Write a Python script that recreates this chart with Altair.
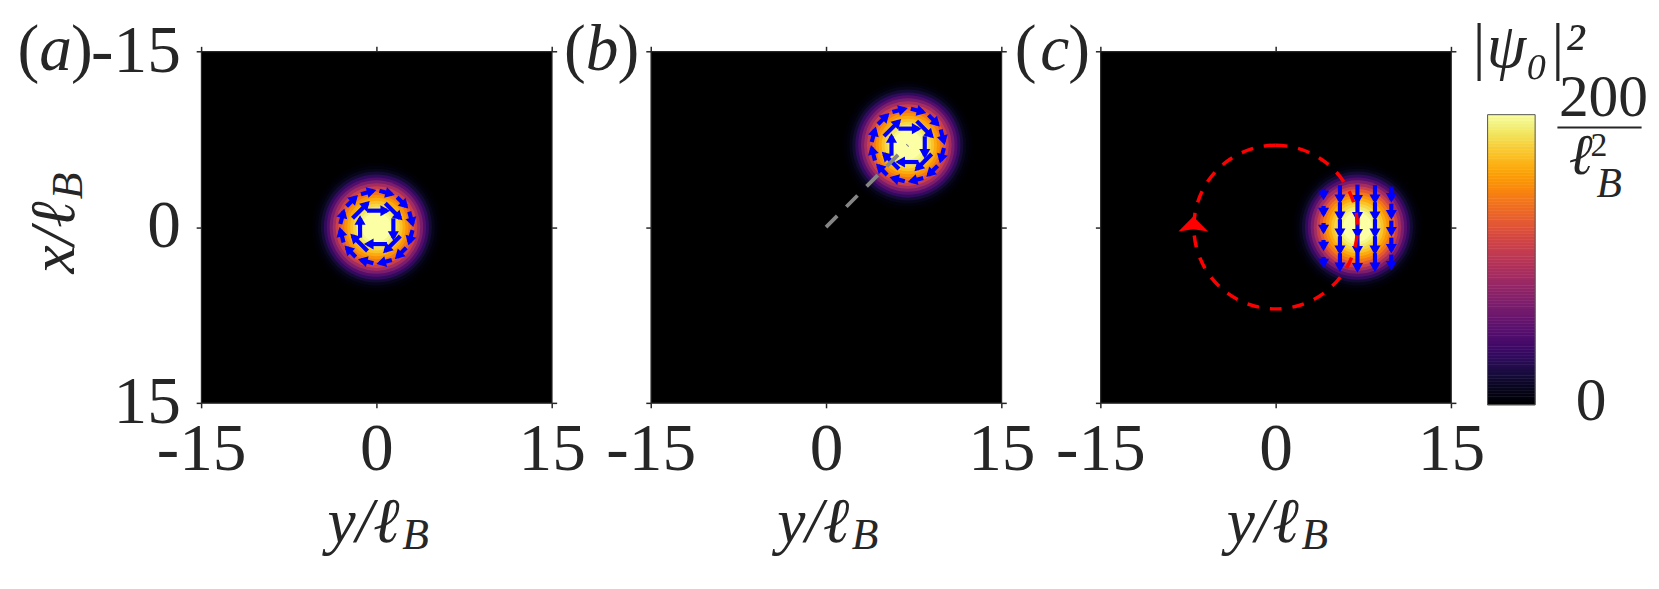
import math
import altair as alt
import pandas as pd

FONT = "Liberation Serif"
INK = "#262626"
W, H = 354, 355
TICK_FS = 68
TITLE_FS = 64
SUB_FS = 44
LBL_FS = 66

# ---------------- data ----------------
PANEL_LETTERS = ["a", "b", "c"]
# blob centre: horizontal coordinate (y/l_B) and vertical coordinate (x/l_B)
BLOB_H = [0.0, 7.0, 7.0]
BLOB_V = [0.0, -7.0, 0.0]

# radial profile of |psi0|^2 (radius in l_B, value in 1/l_B^2)
PROFILE_R = [5.5, 5.25, 5.0, 4.75, 4.5, 4.25, 4.0, 3.75, 3.5, 3.25, 3.0,
             2.75, 2.5, 2.25, 2.0, 1.75, 1.5, 1.25, 1.0]
PROFILE_VAL = [1, 4, 9, 18, 32, 48, 68, 88, 108, 125, 140,
               152, 162, 172, 180, 188, 195, 200, 205]

# vortex current arrows of panels (a), (b), relative to blob centre
VORT_H0 = [-0.8, 0.76, 1.45, 2.04, 0.9, -0.76, -1.4, -2.04,
           0.26, 1.77, 2.81, 3.09, 2.55, 1.32, -0.26, -1.77, -2.81, -3.09, -2.55, -1.32]
VORT_V0 = [-1.4, -2.04, -0.75, 0.76, 1.45, 2.04, 0.9, -0.76,
           -3.09, -2.55, -1.32, 0.26, 1.77, 2.81, 3.09, 2.55, 1.32, -0.26, -1.77, -2.81]
VORT_H1 = [0.9, 2.04, 1.45, 0.76, -0.8, -2.04, -1.4, -0.76,
           1.32, 2.55, 3.09, 2.81, 1.77, 0.26, -1.32, -2.55, -3.09, -2.81, -1.77, -0.26]
VORT_V1 = [-1.4, -0.76, 0.9, 2.04, 1.45, 0.76, -0.75, -2.04,
           -2.81, -1.77, -0.26, 1.32, 2.55, 3.09, 2.81, 1.77, 0.26, -1.32, -2.55, -3.09]

# downward current arrows of panel (c)
C_COL_H = [4.1, 5.5, 7.0, 8.5, 9.9]
C_COL_LEN = [0.7, 1.35, 1.45, 1.35, 1.1]
C_ROW_V = [-2.9, -1.45, 0.0, 1.45, 2.9]

# grey dashed guide in (b): from origin to blob centre
GUIDE_H = [0.0, 7.0]
GUIDE_V = [0.0, -7.0]

# red dashed orbit in (c)
ORBIT_H, ORBIT_V, ORBIT_R = [0.0], [0.0], [7.0]
ORBIT_ARROW_H, ORBIT_ARROW_V = [-7.05], [-0.2]

CBAR_MAX = 200
CBAR_LEVELS = list(range(0, CBAR_MAX, 2))

# ---------------- scales ----------------
xs = alt.Scale(domain=[-15, 15], nice=False, zero=False)
ys = alt.Scale(domain=[-15, 15], nice=False, zero=False, reverse=True)
rs = alt.Scale(type="linear", domain=[0, 15], range=[0, W / 2], zero=True)
cs = alt.Scale(scheme="inferno", domain=[0, CBAR_MAX], clamp=True)


def axis(orient, labels):
    pad = 8 if orient in ("bottom", "top") else 16
    kw = dict(orient=orient, values=[-15, 0, 15], labels=labels, ticks=True,
              tickSize=5, tickWidth=1.5, tickColor=INK, domain=False, grid=False,
              title=None, labelFont=FONT, labelFontSize=TICK_FS, labelColor=INK,
              labelPadding=pad, labelFlush=False, labelOverlap=False,
              labelExpr="'' + datum.value")
    return alt.Axis(**kw)


def text_piece(df, txt, dx, dy, size, italic=False, align="left", angle=0,
               xscale=xs, yscale=ys, xf="h", yf="v"):
    return alt.Chart(df).mark_text(
        text=txt, dx=dx, dy=dy, fontSize=size, font=FONT,
        fontStyle="italic" if italic else "normal", align=align,
        baseline="alphabetic", angle=angle, color=INK,
    ).encode(
        x=alt.X(f"{xf}:Q", scale=xscale, axis=None),
        y=alt.Y(f"{yf}:Q", scale=yscale, axis=None),
    )


def arrow_layers(df):
    d = df.copy()
    dh = d["h1"] - d["h0"]
    dv = d["v1"] - d["v0"]
    n = (dh ** 2 + dv ** 2) ** 0.5
    d["hh"] = d["h1"] - 0.28 * dh / n
    d["hv"] = d["v1"] - 0.28 * dv / n
    d["ang"] = [(math.degrees(math.atan2(a, -b)) + 360) % 360 for a, b in zip(dh, dv)]
    shafts = alt.Chart(d).mark_rule(color="#0000ff", strokeWidth=4.2).encode(
        x=alt.X("h0:Q", scale=xs, axis=axis("top", False)),
        y=alt.Y("v0:Q", scale=ys, axis=axis("right", False)),
        x2="h1:Q", y2="v1:Q",
    )
    heads = alt.Chart(d).mark_point(shape="triangle", filled=True, size=125,
                                    color="#0000ff", opacity=1, strokeWidth=0).encode(
        x=alt.X("hh:Q", scale=xs, axis=None),
        y=alt.Y("hv:Q", scale=ys, axis=None),
        angle=alt.Angle("ang:Q", scale=None),
    )
    return [shafts, heads]


panels = []
for i, letter in enumerate(PANEL_LETTERS):
    ch, cv = BLOB_H[i], BLOB_V[i]
    disc_df = pd.DataFrame({"h": [ch] * len(PROFILE_R), "v": [cv] * len(PROFILE_R),
                            "r": PROFILE_R, "val": PROFILE_VAL})
    discs = alt.Chart(disc_df).mark_arc(theta=0, theta2=6.2832).encode(
        x=alt.X("h:Q", scale=xs, axis=axis("bottom", True), stack=None),
        y=alt.Y("v:Q", scale=ys, axis=axis("left", letter == "a"), stack=None),
        radius=alt.Radius("r:Q", scale=rs, stack=None),
        color=alt.Color("val:Q", scale=cs, legend=None),
    )
    layers = [discs]

    if letter in ("a", "b"):
        adf = pd.DataFrame({
            "h0": [ch + v for v in VORT_H0], "v0": [cv + v for v in VORT_V0],
            "h1": [ch + v for v in VORT_H1], "v1": [cv + v for v in VORT_V1]})
    else:
        rows = []
        for hcol, ln in zip(C_COL_H, C_COL_LEN):
            for vr in C_ROW_V:
                rows.append({"h0": hcol, "v0": vr - ln / 2, "h1": hcol, "v1": vr + ln / 2})
        adf = pd.DataFrame(rows)
    layers += arrow_layers(adf)

    if letter == "b":
        gdf = pd.DataFrame({"h0": [GUIDE_H[0]], "v0": [GUIDE_V[0]],
                            "h1": [GUIDE_H[1]], "v1": [GUIDE_V[1]]})
        layers.append(alt.Chart(gdf).mark_rule(color="#858585", strokeWidth=3.8,
                                               strokeDash=[16, 13]).encode(
            x=alt.X("h0:Q", scale=xs, axis=None), y=alt.Y("v0:Q", scale=ys, axis=None),
            x2="h1:Q", y2="v1:Q"))
    if letter == "c":
        odf = pd.DataFrame({"h": ORBIT_H, "v": ORBIT_V, "r": ORBIT_R})
        layers.append(alt.Chart(odf).mark_arc(theta=0, theta2=6.2832, fillOpacity=0,
                                              stroke="#ff0000", strokeWidth=3.5,
                                              strokeDash=[12, 11]).encode(
            x=alt.X("h:Q", scale=xs, axis=None, stack=None),
            y=alt.Y("v:Q", scale=ys, axis=None, stack=None),
            radius=alt.Radius("r:Q", scale=rs, stack=None)))
        cdf = pd.DataFrame({"h": ORBIT_ARROW_H, "v": ORBIT_ARROW_V})
        layers.append(alt.Chart(cdf).mark_point(
            shape="M0,-0.55L1,0.45L0,0.3L-1,0.45Z", filled=True, size=900,
            color="#ff0000", fill="#ff0000", opacity=1, strokeWidth=0).encode(
            x=alt.X("h:Q", scale=xs, axis=None), y=alt.Y("v:Q", scale=ys, axis=None)))

    # annotations
    corner = pd.DataFrame({"h": [-15.0], "v": [-15.0]})
    bottom = pd.DataFrame({"h": [0.0], "v": [15.0]})
    left = pd.DataFrame({"h": [-15.0], "v": [0.0]})
    if letter == "a":
        rx = -109.5
    elif letter == "b":
        rx = -11.5
    else:
        rx = -10.5
    layers += [
        text_piece(corner, ")", rx, 19, LBL_FS, align="right"),
        text_piece(corner, letter, rx - 21, 19, LBL_FS, italic=True, align="right"),
        text_piece(corner, "(", rx - 54, 19, LBL_FS, align="right"),
        text_piece(bottom, "y/ℓ", 23.5, 140, TITLE_FS, italic=True, align="right"),
        text_piece(bottom, "B", 26, 148, SUB_FS, italic=True, align="left"),
    ]
    if letter == "a":
        layers += [
            text_piece(left, "x/ℓ", 26, -128.5, TITLE_FS, italic=True, align="right", angle=270),
            text_piece(left, "B", 28, -120.5, SUB_FS, italic=True, align="left", angle=270),
        ]

    panel = alt.layer(*layers).resolve_axis(x="independent", y="independent").properties(
        width=W, height=H,
        view=alt.ViewBackground(fill="black", stroke=INK, strokeWidth=1.2))
    panels.append(panel)

# ---------------- colorbar (4th column, drawn back towards panel c) ----------------
CB_H = 357
cby = alt.Scale(domain=[0, CBAR_MAX * CB_H / 293.0], nice=False, zero=True)
cbx = alt.Scale(domain=[0, 1], range=[-63, -15], nice=False, zero=False)
cb_df = pd.DataFrame({"lo": [0.0] * len(CBAR_LEVELS), "hi": [1.0] * len(CBAR_LEVELS),
                      "v0": CBAR_LEVELS, "v1": [v + 2 for v in CBAR_LEVELS]})
grad = alt.Chart(cb_df).mark_rect(strokeWidth=0.6).encode(
    x=alt.X("lo:Q", scale=cbx, axis=None), x2="hi:Q",
    y=alt.Y("v0:Q", scale=cby, axis=None), y2="v1:Q",
    color=alt.Color("v0:Q", scale=cs, legend=None),
    stroke=alt.Stroke("v0:Q", scale=cs, legend=None),
)
frame_df = pd.DataFrame({"lo": [0.0], "hi": [1.0], "v0": [0], "v1": [CBAR_MAX]})
frame = alt.Chart(frame_df).mark_rect(fillOpacity=0, stroke="#555555", strokeWidth=1).encode(
    x=alt.X("lo:Q", scale=cbx, axis=None), x2="hi:Q",
    y=alt.Y("v0:Q", scale=cby, axis=None), y2="v1:Q")

top_r = pd.DataFrame({"a": [1.0], "b": [float(CBAR_MAX)]})
top_l = pd.DataFrame({"a": [0.0], "b": [float(CBAR_MAX)]})
bot_r = pd.DataFrame({"a": [1.0], "b": [0.0]})


def cb_text(df, txt, dx, dy, size, italic=False):
    return text_piece(df, txt, dx, dy, size, italic=italic, align="left",
                      xscale=cbx, yscale=cby, xf="a", yf="b")


frac = alt.Chart(top_r).mark_rule(color=INK, strokeWidth=2).encode(
    x=alt.value(7.5), x2=alt.value(92.5), y=alt.value(77))

cbar = alt.layer(
    grad, frame,
    cb_text(bot_r, "0", 41, 15, 62),
    cb_text(top_r, "200", 24, 1, 60),
    frac,
    cb_text(top_r, "ℓ", 34, 60, 58, italic=True),
    cb_text(top_r, "2", 56, 42, 34),
    cb_text(top_r, "B", 62, 83, 42, italic=True),
    cb_text(top_l, "|ψ₀|²", -18.5, -48, 64, italic=True),
).properties(width=1, height=CB_H,
             view=alt.ViewBackground(fill="transparent", stroke="transparent"))

chart = alt.hconcat(*panels, cbar, spacing=100, bounds="flush").properties(
    padding={"left": 8, "top": 5, "right": 2, "bottom": 2},
    background="white",
)

chart.save("out.html", embed_options={"renderer": "svg", "actions": False})
